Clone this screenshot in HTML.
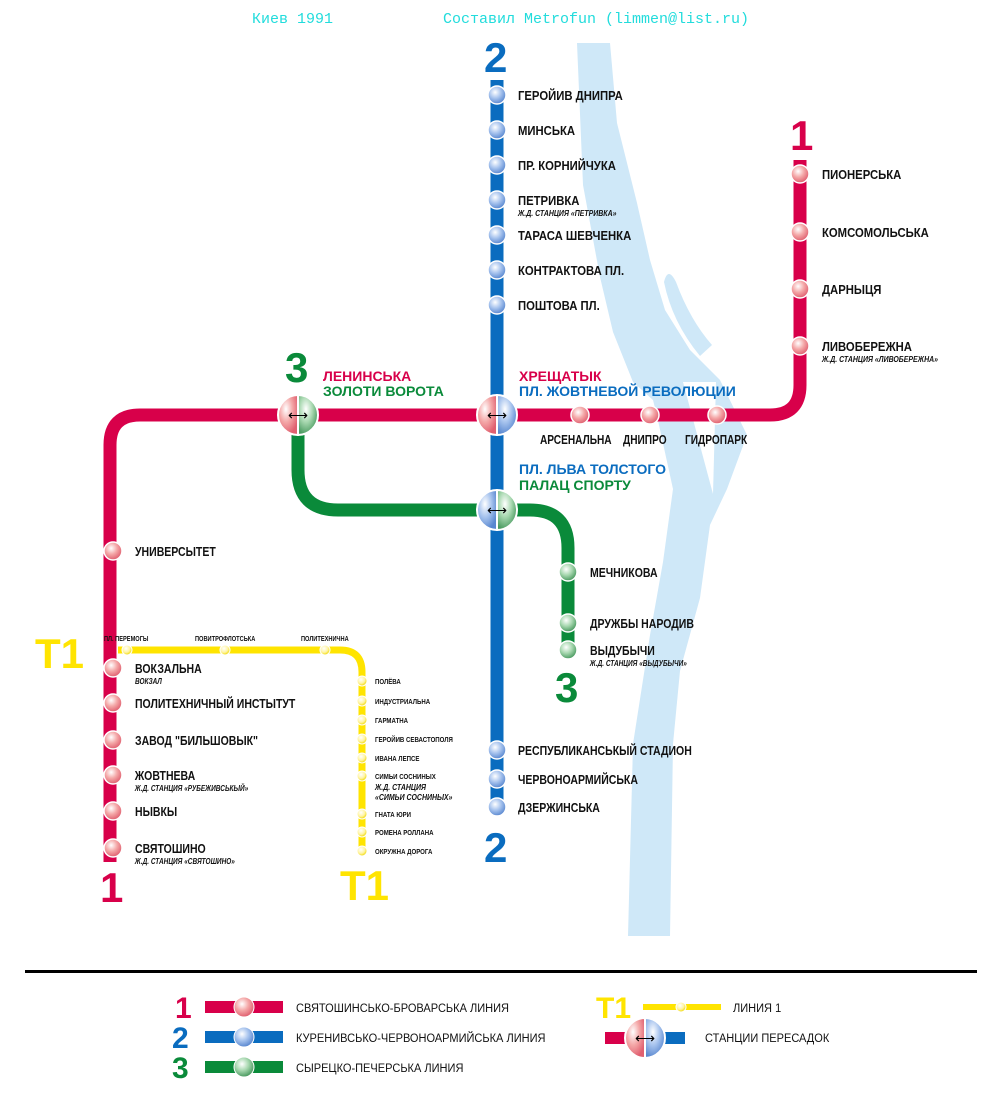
<!DOCTYPE html>
<html><head><meta charset="utf-8"><style>
body{margin:0;background:#fff}
svg{display:block}
text{font-family:"Liberation Sans",sans-serif}
.m{font-family:"Liberation Mono",monospace}
.n{font-size:13px;font-weight:bold;fill:#111}
.s{font-size:8px;font-style:italic;font-weight:bold;fill:#111}
.y{font-size:7px;font-weight:bold;fill:#111}
.c{transform-box:fill-box;transform-origin:0 50%}
.k87{transform:scaleX(.87)}
.k81{transform:scaleX(.81)}
.k78{transform:scaleX(.78)}
.k92{transform:scaleX(.92)}
</style></head><body>
<svg width="1000" height="1100" viewBox="0 0 1000 1100">
<defs>
<radialGradient id="gr" cx="40%" cy="35%" r="65%"><stop offset="0" stop-color="#fff"/><stop offset="0.5" stop-color="#f4a8a8"/><stop offset="1" stop-color="#e06070"/></radialGradient>
<radialGradient id="gb" cx="40%" cy="35%" r="65%"><stop offset="0" stop-color="#fff"/><stop offset="0.5" stop-color="#a8c4ee"/><stop offset="1" stop-color="#5a88d0"/></radialGradient>
<radialGradient id="gg" cx="40%" cy="35%" r="65%"><stop offset="0" stop-color="#fff"/><stop offset="0.5" stop-color="#a8d8b0"/><stop offset="1" stop-color="#4a9a60"/></radialGradient>
<radialGradient id="gy" cx="40%" cy="35%" r="65%"><stop offset="0" stop-color="#fff"/><stop offset="0.6" stop-color="#fff4a0"/><stop offset="1" stop-color="#f0d800"/></radialGradient>
</defs>
<path d="M577,43 L583,185 L600,277 L613,332 L633,382 L653,400 L657,416 L673,489 L663,562 L650,635 L633,744 L628,936 L670,936 L673,744 L680,671 L700,598 L710,525 L727,489 L747,435 L720,380 L690,350 L665,310 L650,260 L637,203 L617,123 L610,43 Z" fill="#cfe8f8"/>
<path d="M683,382 L716,382 L713,494 Z" fill="#fff"/>
<path d="M664,282 Q668,266 676,282 Q690,320 712,345 L700,356 Q672,322 664,282 Z" fill="#cfe8f8"/>
<text class="m" x="252" y="23" font-size="15" fill="#22dcdc">Киев 1991</text>
<text class="m" x="443" y="23" font-size="15" fill="#22dcdc">Составил Metrofun (limmen@list.ru)</text>
<g fill="none" stroke-width="13">
<path d="M800,160 V385 Q800,415 770,415 H140 Q110,415 110,445 V862" stroke="#d8004a"/>
<path d="M497,80 V812" stroke="#0a6cbf"/>
<path d="M298,415 V470 Q298,510 338,510 H530 Q568,510 568,548 V652" stroke="#0a8a3a"/>
<path d="M118,650 H340 Q362,650 362,672 V852" stroke="#ffe400" stroke-width="7"/>
</g>
<g font-weight="bold" font-size="42">
<text x="484" y="72" fill="#0a6cbf">2</text>
<text x="484" y="862" fill="#0a6cbf">2</text>
<text x="790" y="150" fill="#d8004a">1</text>
<text x="100" y="902" fill="#d8004a">1</text>
<text x="285" y="382" fill="#0a8a3a">3</text>
<text x="555" y="702" fill="#0a8a3a">3</text>
<text x="35" y="668" fill="#ffe400">T1</text>
<text x="340" y="900" fill="#ffe400">T1</text>
</g>
<g stroke="#fff" stroke-width="1.5">
<g fill="url(#gr)">
<circle cx="800" cy="174" r="9"/><circle cx="800" cy="232" r="9"/><circle cx="800" cy="289" r="9"/><circle cx="800" cy="346" r="9"/>
<circle cx="580" cy="415" r="9"/><circle cx="650" cy="415" r="9"/><circle cx="717" cy="415" r="9"/>
<circle cx="113" cy="551" r="9"/><circle cx="113" cy="668" r="9"/><circle cx="113" cy="703" r="9"/><circle cx="113" cy="740" r="9"/><circle cx="113" cy="775" r="9"/><circle cx="113" cy="811" r="9"/><circle cx="113" cy="848" r="9"/>
</g>
<g fill="url(#gb)">
<circle cx="497" cy="95" r="9"/><circle cx="497" cy="130" r="9"/><circle cx="497" cy="165" r="9"/><circle cx="497" cy="200" r="9"/><circle cx="497" cy="235" r="9"/><circle cx="497" cy="270" r="9"/><circle cx="497" cy="305" r="9"/>
<circle cx="497" cy="750" r="9"/><circle cx="497" cy="779" r="9"/><circle cx="497" cy="807" r="9"/>
</g>
<g fill="url(#gg)"><circle cx="568" cy="572" r="9"/><circle cx="568" cy="623" r="9"/><circle cx="568" cy="650" r="9"/></g>
<g fill="url(#gy)" stroke-width="1">
<circle cx="127" cy="650" r="5"/><circle cx="225" cy="650" r="5"/><circle cx="325" cy="650" r="5"/>
<circle cx="362" cy="681" r="5"/><circle cx="362" cy="701" r="5"/><circle cx="362" cy="720" r="5"/><circle cx="362" cy="739" r="5"/><circle cx="362" cy="758" r="5"/><circle cx="362" cy="776" r="5"/><circle cx="362" cy="814" r="5"/><circle cx="362" cy="832" r="5"/><circle cx="362" cy="851" r="5"/>
</g>
</g>
<g stroke="#fff" stroke-width="2">
<path d="M298,395 A20,20 0 0 0 298,435 Z" fill="url(#gr)"/><path d="M298,395 A20,20 0 0 1 298,435 Z" fill="url(#gg)"/>
<path d="M497,395 A20,20 0 0 0 497,435 Z" fill="url(#gr)"/><path d="M497,395 A20,20 0 0 1 497,435 Z" fill="url(#gb)"/>
<path d="M497,490 A20,20 0 0 0 497,530 Z" fill="url(#gb)"/><path d="M497,490 A20,20 0 0 1 497,530 Z" fill="url(#gg)"/>
</g>
<g font-size="14" text-anchor="middle" fill="#000"><text x="298" y="420">⟷</text><text x="497" y="420">⟷</text><text x="497" y="515">⟷</text></g>
<text class="n c k87" x="518" y="100">ГЕРОЙИВ ДНИПРА</text>
<text class="n c k87" x="518" y="135">МИНСЬКА</text>
<text class="n c k87" x="518" y="170">ПР. КОРНИЙЧУКА</text>
<text class="n c k87" x="518" y="205">ПЕТРИВКА</text><text class="s c k87" x="518" y="216">Ж.Д. СТАНЦИЯ «ПЕТРИВКА»</text>
<text class="n c k87" x="518" y="240">ТАРАСА ШЕВЧЕНКА</text>
<text class="n c k87" x="518" y="275">КОНТРАКТОВА ПЛ.</text>
<text class="n c k87" x="518" y="310">ПОШТОВА ПЛ.</text>
<text class="n c k87" x="822" y="179">ПИОНЕРСЬКА</text>
<text class="n c k87" x="822" y="237">КОМСОМОЛЬСЬКА</text>
<text class="n c k87" x="822" y="294">ДАРНЫЦЯ</text>
<text class="n c k87" x="822" y="351">ЛИВОБЕРЕЖНА</text><text class="s c k87" x="822" y="362">Ж.Д. СТАНЦИЯ «ЛИВОБЕРЕЖНА»</text>
<g font-size="14" font-weight="bold">
<text x="323" y="381" fill="#d8004a">ЛЕНИНСЬКА</text><text x="323" y="396" fill="#0a8a3a">ЗОЛОТИ ВОРОТА</text>
<text x="519" y="381" fill="#d8004a">ХРЕЩАТЫК</text><text x="519" y="396" fill="#0a6cbf">ПЛ. ЖОВТНЕВОЙ РЕВОЛЮЦИИ</text>
<text x="519" y="474" fill="#0a6cbf">ПЛ. ЛЬВА ТОЛСТОГО</text><text x="519" y="490" fill="#0a8a3a">ПАЛАЦ СПОРТУ</text>
</g>
<text class="n c k78" x="540" y="444">АРСЕНАЛЬНА</text>
<text class="n c k78" x="623" y="444">ДНИПРО</text>
<text class="n c k78" x="685" y="444">ГИДРОПАРК</text>
<text class="n c k81" x="135" y="556">УНИВЕРСЫТЕТ</text>
<text class="n c k81" x="590" y="577">МЕЧНИКОВА</text>
<text class="n c k81" x="590" y="628">ДРУЖБЫ НАРОДИВ</text>
<text class="n c k81" x="590" y="655">ВЫДУБЫЧИ</text><text class="s c k81" x="590" y="666">Ж.Д. СТАНЦИЯ «ВЫДУБЫЧИ»</text>
<text class="n c k81" x="518" y="755">РЕСПУБЛИКАНСЬКЫЙ СТАДИОН</text>
<text class="n c k81" x="518" y="784">ЧЕРВОНОАРМИЙСЬКА</text>
<text class="n c k81" x="518" y="812">ДЗЕРЖИНСЬКА</text>
<text class="n c k81" x="135" y="673">ВОКЗАЛЬНА</text><text class="s c k81" x="135" y="684">ВОКЗАЛ</text>
<text class="n c k81" x="135" y="708">ПОЛИТЕХНИЧНЫЙ ИНСТЫТУТ</text>
<text class="n c k81" x="135" y="745">ЗАВОД "БИЛЬШОВЫК"</text>
<text class="n c k81" x="135" y="780">ЖОВТНЕВА</text><text class="s c k81" x="135" y="791">Ж.Д. СТАНЦИЯ «РУБЕЖИВСЬКЫЙ»</text>
<text class="n c k81" x="135" y="816">НЫВКЫ</text>
<text class="n c k81" x="135" y="853">СВЯТОШИНО</text><text class="s c k81" x="135" y="864">Ж.Д. СТАНЦИЯ «СВЯТОШИНО»</text>
<text class="y c k81" x="104" y="641">ПЛ. ПЕРЕМОГЫ</text>
<text class="y c k81" x="195" y="641">ПОВИТРОФЛОТСЬКА</text>
<text class="y c k81" x="301" y="641">ПОЛИТЕХНИЧНА</text>
<text class="y c k87" x="375" y="684">ПОЛЁВА</text>
<text class="y c k87" x="375" y="704">ИНДУСТРИАЛЬНА</text>
<text class="y c k87" x="375" y="723">ГАРМАТНА</text>
<text class="y c k87" x="375" y="742">ГЕРОЙИВ СЕВАСТОПОЛЯ</text>
<text class="y c k87" x="375" y="761">ИВАНА ЛЕПСЕ</text>
<text class="y c k87" x="375" y="779">СИМЬИ СОСНИНЫХ</text>
<text class="s c k87" x="375" y="790">Ж.Д. СТАНЦИЯ</text><text class="s c k87" x="375" y="800">«СИМЬИ СОСНИНЫХ»</text>
<text class="y c k87" x="375" y="817">ГНАТА ЮРИ</text>
<text class="y c k87" x="375" y="835">РОМЕНА РОЛЛАНА</text>
<text class="y c k87" x="375" y="854">ОКРУЖНА ДОРОГА</text>
<rect x="25" y="970" width="952" height="3" fill="#000"/>
<g font-weight="bold" font-size="30">
<text x="175" y="1018" fill="#d8004a">1</text>
<text x="172" y="1048" fill="#0a6cbf">2</text>
<text x="172" y="1078" fill="#0a8a3a">3</text>
<text x="596" y="1018" fill="#ffe400">T1</text>
</g>
<rect x="205" y="1001" width="78" height="12" fill="#d8004a"/><circle cx="244" cy="1007" r="10" fill="url(#gr)" stroke="#fff"/>
<rect x="205" y="1031" width="78" height="12" fill="#0a6cbf"/><circle cx="244" cy="1037" r="10" fill="url(#gb)" stroke="#fff"/>
<rect x="205" y="1061" width="78" height="12" fill="#0a8a3a"/><circle cx="244" cy="1067" r="10" fill="url(#gg)" stroke="#fff"/>
<rect x="643" y="1004" width="78" height="6" fill="#ffe400"/><circle cx="681" cy="1007" r="5" fill="url(#gy)" stroke="#fff"/>
<rect x="605" y="1032" width="80" height="12" fill="#0a6cbf"/><rect x="605" y="1032" width="40" height="12" fill="#d8004a"/>
<path d="M645,1018 A20,20 0 0 0 645,1058 Z" fill="url(#gr)" stroke="#fff" stroke-width="2"/><path d="M645,1018 A20,20 0 0 1 645,1058 Z" fill="url(#gb)" stroke="#fff" stroke-width="2"/>
<text x="645" y="1043" font-size="14" text-anchor="middle">⟷</text>
<g font-size="12" fill="#111">
<text class="c k92" x="296" y="1012">СВЯТОШИНСЬКО-БРОВАРСЬКА ЛИНИЯ</text>
<text class="c k92" x="296" y="1042">КУРЕНИВСЬКО-ЧЕРВОНОАРМИЙСЬКА ЛИНИЯ</text>
<text class="c k92" x="296" y="1072">СЫРЕЦКО-ПЕЧЕРСЬКА ЛИНИЯ</text>
<text class="c k92" x="733" y="1012">ЛИНИЯ 1</text>
<text class="c k92" x="705" y="1042">СТАНЦИИ ПЕРЕСАДОК</text>
</g>
</svg>
</body></html>
